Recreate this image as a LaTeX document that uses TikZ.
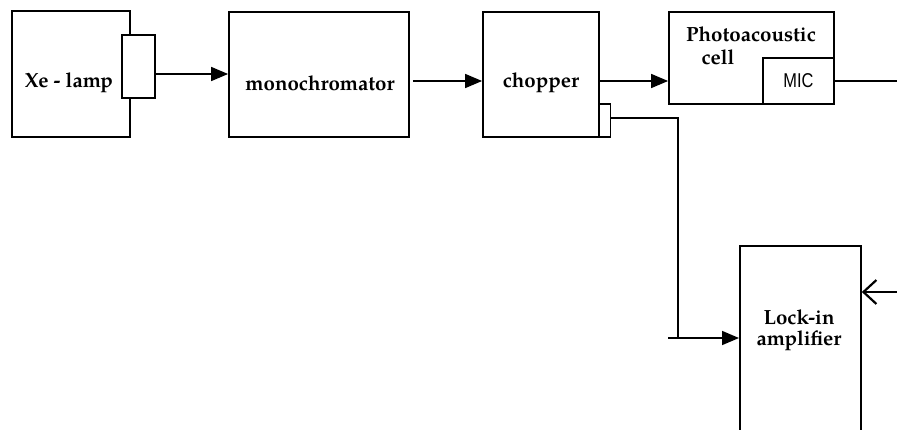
\documentclass[tikz,border=0pt]{standalone}
\usepackage{fontspec}
\setmainfont{texgyrepagella}[Extension=.otf, UprightFont=*-regular, BoldFont=*-bold]
\newfontfamily\micfont{Liberation Sans}[FakeStretch=0.82]
\usetikzlibrary{arrows.meta}
\begin{document}
\begin{tikzpicture}[x=1pt,y=-1pt,
  blk/.style={draw, line width=1.8pt},
  lbl/.style={font=\fontsize{20.5}{24}\selectfont\bfseries, align=center, inner sep=0pt},
  wire/.style={line width=1.6pt},
  fwd/.style={wire, -{Triangle[length=17pt,width=14pt]}},
  barb/.style={wire, -{Straight Barb[length=13pt,width=24pt,line width=2.2pt]}}]
\useasboundingbox (0,0) rectangle (897,429);

% Xe lamp housing with its exit window
\draw[blk] (12,11) rectangle (130,137);
\node[draw, line width=1.8pt, fill=white, minimum width=33pt, minimum height=63pt, inner sep=0pt] (win) at (138.5,66.5) {};
\node[lbl] (lamp) at (69,83) {Xe - lamp};

% monochromator
\node[blk, minimum width=180pt, minimum height=125pt, inner sep=0pt] (mono) at (319,74.5) {};
\node[lbl] at (320,83) {monochromator};

% chopper with its reference output
\node[blk, minimum width=116pt, minimum height=125pt, inner sep=0pt] (chop) at (541,74.5) {};
\node[lbl] at (541,83) {chopper};
\node[draw, line width=1.6pt, minimum width=12pt, minimum height=33pt, inner sep=0pt] (ref) at (604.5,120.5) {};

% photoacoustic cell with microphone
\node[blk, minimum width=165pt, minimum height=92pt, inner sep=0pt] (pac) at (751.5,58) {};
\node[lbl] at (751,34) {Photoacoustic};
\node[lbl] at (718,57) {cell};
\node[draw, line width=1.6pt, minimum width=71pt, minimum height=46pt, inner sep=0pt, font=\micfont\fontsize{20}{22}\selectfont] (mic) at (798.5,81) {MIC};

% lock-in amplifier
\node[blk, minimum width=121pt, minimum height=200pt, inner sep=0pt, anchor=north west] (lock) at (739,245) {};
\node[lbl] at (799,330) {Lock-in\\[-3pt]amplifier};

% optical and signal paths
\draw[fwd] (win.east |- 0,74) -- (mono.west |- 0,74);
\draw[fwd] (mono.east |- 0,81) ++(3,0) -- (chop.west |- 0,81);
\draw[fwd] (chop.east |- 0,81) -- (pac.west |- 0,81);
\coordinate (micout) at (897,81);
\draw[wire] (mic.east) -- (micout);

\coordinate (bend) at (678,118);
\coordinate (refin) at (668,338);
\draw[wire] (ref.east |- bend) -- (bend) -- (bend |- refin);
\draw[fwd] (refin) -- (lock.west |- refin);

\coordinate (sigin) at (897,292);
\draw[barb] (sigin) -- (lock.east |- sigin);
\end{tikzpicture}
\end{document}
